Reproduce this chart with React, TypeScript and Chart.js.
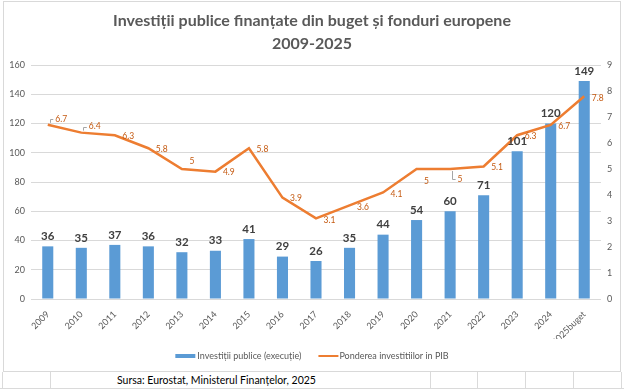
import React, { useEffect, useRef } from "react";
import { Chart, registerables } from "chart.js";

Chart.register(...registerables);

const categories = [
  "2009", "2010", "2011", "2012", "2013", "2014", "2015", "2016", "2017",
  "2018", "2019", "2020", "2021", "2022", "2023", "2024", "2025buget",
];
const investments = [36, 35, 37, 36, 32, 33, 41, 29, 26, 35, 44, 54, 60, 71, 101, 120, 149];
const gdpShare = [6.7, 6.4, 6.3, 5.8, 5, 4.9, 5.8, 3.9, 3.1, 3.6, 4.1, 5, 5, 5.1, 6.3, 6.7, 7.8];
const titleLines = ["Investiții publice finanțate din buget și fonduri europene", "2009-2025"];
const seriesNames = ["Investiții publice (execuție)", "Ponderea investitiilor in PIB"];
const sourceNote = "Sursa: Eurostat, Ministerul Finanțelor, 2025";

// label placement nudges for the share labels (vertical offset in px, leader line flag)
const shareLabelShift = [-6, -6, 1, 1, -8, 1, 1, 1, 2, 2, 2, 12, 10, 1, 1, 1, 2];
const shareLabelLeader = [true, true, false, false, false, false, false, false, false, false, false, false, true, false, false, false, false];

const BAR_COLOR = "#5b9bd5";
const LINE_COLOR = "#ed7d31";
const FONT = "Lato, 'Open Sans', sans-serif";

const labelPlugin = {
  id: "customLabels",
  afterDatasetsDraw(chart: any) {
    const ctx = chart.ctx;
    const barMeta = chart.getDatasetMeta(0);
    const lineMeta = chart.getDatasetMeta(1);
    ctx.save();
    ctx.font = `bold 11.5px ${FONT}`;
    ctx.fillStyle = "#404040";
    ctx.textAlign = "center";
    ctx.textBaseline = "middle";
    barMeta.data.forEach((el: any, i: number) => {
      ctx.fillText(String(investments[i]), el.x, el.y - 10);
    });
    ctx.font = `8.5px ${FONT}`;
    ctx.textAlign = "left";
    lineMeta.data.forEach((pt: any, i: number) => {
      const lx = pt.x + 7.5;
      const ly = pt.y + shareLabelShift[i];
      if (shareLabelLeader[i]) {
        ctx.strokeStyle = "#a6a6a6";
        ctx.lineWidth = 1;
        ctx.beginPath();
        const sx = Math.round(pt.x + 2) + 0.5;
        const dir = ly < pt.y ? -1 : 1;
        ctx.moveTo(sx, pt.y + dir * 2);
        ctx.lineTo(sx, Math.round(ly) + 0.5);
        ctx.lineTo(lx - 2, Math.round(ly) + 0.5);
        ctx.stroke();
      }
      ctx.fillStyle = "#c55a11";
      ctx.fillText(String(gdpShare[i]), lx, ly);
    });
    ctx.restore();
  },
  afterDraw(chart: any) {
    const ctx = chart.ctx;
    ctx.save();
    ctx.font = `9px ${FONT}`;
    ctx.textBaseline = "middle";
    ctx.textAlign = "left";
    const w1 = ctx.measureText(seriesNames[0]).width;
    const w2 = ctx.measureText(seriesNames[1]).width;
    const markW = 20;
    const total = markW + 2 + w1 + 17 + markW + 1 + w2;
    let x = chart.width / 2 - total / 2;
    const y = 354;
    ctx.fillStyle = BAR_COLOR;
    ctx.fillRect(x, y - 2, markW, 4);
    x += markW + 2;
    ctx.fillStyle = "#595959";
    ctx.fillText(seriesNames[0], x, y);
    x += w1 + 17;
    ctx.strokeStyle = LINE_COLOR;
    ctx.lineWidth = 2;
    ctx.beginPath();
    ctx.moveTo(x, y);
    ctx.lineTo(x + markW, y);
    ctx.stroke();
    x += markW + 1;
    ctx.fillText(seriesNames[1], x, y);
    ctx.restore();
  },
};

function ChartView() {
  const canvasRef = useRef<HTMLCanvasElement | null>(null);
  useEffect(() => {
    if (!canvasRef.current) return;
    const chart = new Chart(canvasRef.current, {
      type: "bar",
      data: {
        labels: categories,
        datasets: [
          {
            type: "bar",
            label: seriesNames[0],
            data: investments,
            backgroundColor: BAR_COLOR,
            barPercentage: 0.33,
            categoryPercentage: 1,
            yAxisID: "y",
            order: 1,
          },
          {
            type: "line",
            label: seriesNames[1],
            data: gdpShare,
            borderColor: LINE_COLOR,
            backgroundColor: LINE_COLOR,
            borderWidth: 2.5,
            pointRadius: 0,
            tension: 0,
            yAxisID: "y1",
            order: 0,
          },
        ] as any,
      },
      options: {
        animation: false,
        responsive: true,
        maintainAspectRatio: false,
        layout: { padding: { left: 0, right: 0, top: 0, bottom: 32 } },
        plugins: {
          legend: { display: false },
          tooltip: { enabled: false },
          title: {
            display: true,
            text: titleLines,
            color: "#595959",
            font: { family: FONT, size: 16, weight: "bold", lineHeight: 1.47 },
            padding: { top: 7, bottom: 9 },
          },
        },
        scales: {
          x: {
            offset: true,
            grid: { display: false },
            border: { display: false },
            ticks: {
              color: "#595959",
              font: { family: FONT, size: 9 },
              minRotation: 45,
              maxRotation: 45,
              autoSkip: false,
              padding: 2,
            },
            afterFit: (s: any) => { s.height = 40; },
          },
          y: {
            position: "left",
            min: 0,
            max: 160,
            ticks: { stepSize: 20, color: "#595959", font: { family: FONT, size: 9 }, padding: 6 },
            grid: { color: "#d9d9d9", drawTicks: false },
            border: { display: false },
            afterFit: (s: any) => { s.width = 27; },
          },
          y1: {
            position: "right",
            min: 0,
            max: 9,
            ticks: { stepSize: 1, color: "#595959", font: { family: FONT, size: 9 }, padding: 6 },
            grid: { display: false, drawTicks: false },
            border: { display: false },
            afterFit: (s: any) => { s.width = 19; },
          },
        },
      } as any,
      plugins: [labelPlugin],
    });
    return () => chart.destroy();
  }, []);
  return <canvas ref={canvasRef} />;
}

export default function App() {
  const cellLine = "#dadada";
  const vLines = [2, 50, 430, 477, 525, 573, 621];
  return (
    <div style={{ position: "fixed", left: 0, top: 0, width: 624, height: 389, background: "#ffffff", overflow: "hidden" }}>
      {vLines.map((x) => (
        <div key={x} style={{ position: "absolute", left: x, top: 372, width: 1, height: 17, background: cellLine }} />
      ))}
      <div style={{ position: "absolute", left: 0, top: 388, width: 624, height: 1, background: cellLine }} />
      <div
        style={{
          position: "absolute",
          left: 3,
          top: 1,
          width: 616,
          height: 369,
          border: "1px solid #d9d9d9",
          background: "#ffffff",
        }}
      >
        <ChartView />
      </div>
      <div
        style={{
          position: "absolute",
          left: 117,
          top: 372,
          height: 16,
          lineHeight: "16px",
          fontFamily: FONT,
          fontSize: 10.5,
          color: "#000000",
          whiteSpace: "nowrap",
          background: "#ffffff",
          paddingRight: 4,
        }}
      >
        {sourceNote}
      </div>
    </div>
  );
}
